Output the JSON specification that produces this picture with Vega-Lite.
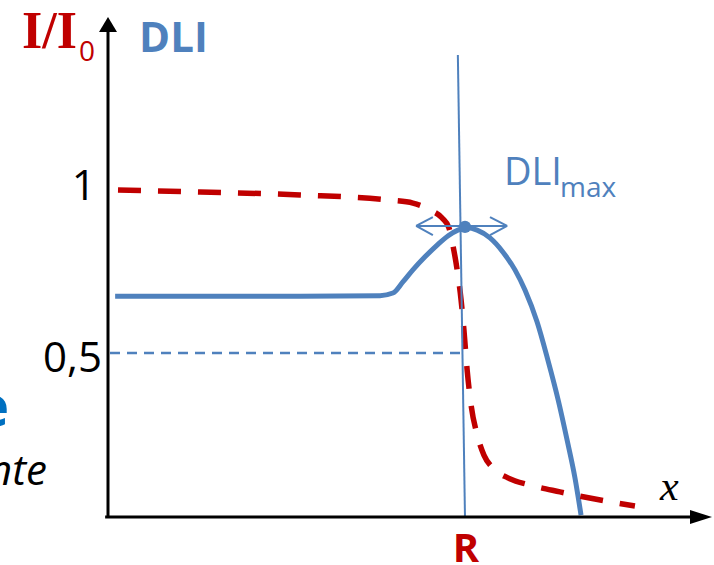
{
  "$schema": "https://vega.github.io/schema/vega-lite/v6.json",
  "width": 714,
  "height": 565,
  "autosize": {"type": "none"},
  "padding": 0,
  "background": "white",
  "config": {"view": {"stroke": null}},
  "datasets": {
    "axes": [
      {"x": -0.008, "y": 0, "x2": 1.64, "y2": 0},
      {"x": 0, "y": -0.003, "x2": 0, "y2": 1.49}
    ],
    "yhead": [{"x": 0, "y": 1.511}],
    "xhead": [{"x": 1.661, "y": 0}],
    "vline": [{"x": 0.98, "y": 1.417, "x2": 1.0, "y2": -0.003}],
    "hdash": [{"x": 0.0056, "y": 0.503, "x2": 0.994, "y2": 0.503}],
    "arrowsegs": [
      {"x": 0.863, "y": 0.893, "x2": 1.118, "y2": 0.893},
      {"x": 0.863, "y": 0.893, "x2": 0.91, "y2": 0.92},
      {"x": 0.863, "y": 0.893, "x2": 0.91, "y2": 0.865},
      {"x": 1.118, "y": 0.893, "x2": 1.07, "y2": 0.92},
      {"x": 1.118, "y": 0.893, "x2": 1.07, "y2": 0.865}
    ],
    "dot": [{"x": 1.0, "y": 0.89}],
    "red": [
      {"x": 0.028, "y": 1.003},
      {"x": 0.258, "y": 0.997},
      {"x": 0.538, "y": 0.988},
      {"x": 0.79, "y": 0.972},
      {"x": 0.854, "y": 0.963},
      {"x": 0.902, "y": 0.942},
      {"x": 0.936, "y": 0.917},
      {"x": 0.955, "y": 0.887},
      {"x": 0.966, "y": 0.834},
      {"x": 0.978, "y": 0.758},
      {"x": 0.989, "y": 0.666},
      {"x": 0.997, "y": 0.574},
      {"x": 1.006, "y": 0.451},
      {"x": 1.017, "y": 0.344},
      {"x": 1.034, "y": 0.252},
      {"x": 1.053, "y": 0.19},
      {"x": 1.078, "y": 0.15},
      {"x": 1.12, "y": 0.12},
      {"x": 1.182, "y": 0.098},
      {"x": 1.266, "y": 0.077},
      {"x": 1.364, "y": 0.055},
      {"x": 1.476, "y": 0.034}
    ],
    "blue": [
      {"x": 0.02, "y": 0.677},
      {"x": 0.538, "y": 0.677},
      {"x": 0.762, "y": 0.679},
      {"x": 0.798, "y": 0.687},
      {"x": 0.826, "y": 0.721},
      {"x": 0.854, "y": 0.758},
      {"x": 0.888, "y": 0.798},
      {"x": 0.922, "y": 0.834},
      {"x": 0.952, "y": 0.862},
      {"x": 0.98, "y": 0.88},
      {"x": 1.006, "y": 0.887},
      {"x": 1.034, "y": 0.88},
      {"x": 1.07, "y": 0.856},
      {"x": 1.106, "y": 0.813},
      {"x": 1.14, "y": 0.758},
      {"x": 1.168, "y": 0.696},
      {"x": 1.202, "y": 0.598},
      {"x": 1.232, "y": 0.482},
      {"x": 1.261, "y": 0.359},
      {"x": 1.286, "y": 0.236},
      {"x": 1.308, "y": 0.12},
      {"x": 1.325, "y": 0.006}
    ]
  },
  "encoding": {
    "x": {"field": "x", "type": "quantitative", "scale": {"domain": [-0.30252, 1.69748], "nice": false, "zero": false}, "axis": null},
    "y": {"field": "y", "type": "quantitative", "scale": {"domain": [-0.14724, 1.58589], "nice": false, "zero": false}, "axis": null}
  },
  "layer": [
    {"data": {"name": "hdash"}, "mark": {"type": "rule", "color": "#4F81BD", "strokeWidth": 2.5, "strokeDash": [10, 7]},
     "encoding": {"x2": {"field": "x2"}, "y2": {"field": "y2"}}},
    {"data": {"name": "blue"}, "mark": {"type": "line", "color": "#4F81BD", "strokeWidth": 5, "interpolate": "monotone"}, "encoding": {}},
    {"data": {"name": "red"}, "mark": {"type": "line", "color": "#C00000", "strokeWidth": 5.5, "strokeDash": [23, 17], "interpolate": "monotone"}, "encoding": {}},
    {"data": {"name": "vline"}, "mark": {"type": "rule", "color": "#4F81BD", "strokeWidth": 2},
     "encoding": {"x2": {"field": "x2"}, "y2": {"field": "y2"}}},
    {"data": {"name": "arrowsegs"}, "mark": {"type": "rule", "color": "#4F81BD", "strokeWidth": 2},
     "encoding": {"x2": {"field": "x2"}, "y2": {"field": "y2"}}},
    {"data": {"name": "dot"}, "mark": {"type": "point", "shape": "circle", "filled": true, "color": "#4F81BD", "size": 150, "opacity": 1}, "encoding": {}},
    {"data": {"name": "axes"}, "mark": {"type": "rule", "color": "#000000", "strokeWidth": 3},
     "encoding": {"x2": {"field": "x2"}, "y2": {"field": "y2"}}},
    {"data": {"name": "yhead"}, "mark": {"type": "point", "shape": "M0,-1L1.2,1L-1.2,1Z", "filled": true, "color": "#000000", "size": 225, "opacity": 1}, "encoding": {}},
    {"data": {"name": "xhead"}, "mark": {"type": "point", "shape": "M1,0L-1,0.64L-1,-0.64Z", "filled": true, "color": "#000000", "size": 484, "opacity": 1}, "encoding": {}},
    {"data": {"values": [{"x": -0.241, "y": 1.439, "t": "I/I"}]},
     "mark": {"type": "text", "font": "Liberation Serif", "fontWeight": "bold", "fontSize": 52, "color": "#C00000", "align": "left", "baseline": "alphabetic"},
     "encoding": {"text": {"field": "t"}}},
    {"data": {"values": [{"x": -0.081, "y": 1.399, "t": "0"}]},
     "mark": {"type": "text", "font": "Open Sans", "fontSize": 28, "color": "#C00000", "align": "left", "baseline": "alphabetic"},
     "encoding": {"text": {"field": "t"}}},
    {"data": {"values": [{"x": 0.087, "y": 1.426, "t": "DLI"}]},
     "mark": {"type": "text", "font": "Open Sans", "fontWeight": "bold", "fontSize": 42, "color": "#4F81BD", "align": "left", "baseline": "alphabetic"},
     "encoding": {"text": {"field": "t"}}},
    {"data": {"values": [{"x": -0.034, "y": 0.972, "t": "1"}, {"x": -0.017, "y": 0.445, "t": "0,5"}]},
     "mark": {"type": "text", "font": "Open Sans", "fontSize": 42, "color": "#000000", "align": "right", "baseline": "alphabetic"},
     "encoding": {"text": {"field": "t"}}},
    {"data": {"values": [{"x": 1.109, "y": 1.018, "t": "DLI"}]},
     "mark": {"type": "text", "font": "Open Sans", "fontSize": 38, "color": "#4F81BD", "align": "left", "baseline": "alphabetic"},
     "encoding": {"text": {"field": "t"}}},
    {"data": {"values": [{"x": 1.266, "y": 0.982, "t": "max"}]},
     "mark": {"type": "text", "font": "Open Sans", "fontSize": 28, "color": "#4F81BD", "align": "left", "baseline": "alphabetic"},
     "encoding": {"text": {"field": "t"}}},
    {"data": {"values": [{"x": 1.003, "y": -0.138, "t": "R"}]},
     "mark": {"type": "text", "font": "Open Sans", "fontWeight": "bold", "fontSize": 40, "color": "#C00000", "align": "center", "baseline": "alphabetic"},
     "encoding": {"text": {"field": "t"}}},
    {"data": {"values": [{"x": 1.546, "y": 0.052, "t": "x"}]},
     "mark": {"type": "text", "font": "Liberation Serif", "fontStyle": "italic", "fontSize": 42, "color": "#000000", "align": "left", "baseline": "alphabetic"},
     "encoding": {"text": {"field": "t"}}},
    {"data": {"values": [{"x": -0.277, "y": 0.28, "t": "e"}]},
     "mark": {"type": "text", "font": "Open Sans", "fontWeight": "bold", "fontSize": 56, "color": "#0070C0", "align": "right", "baseline": "alphabetic"},
     "encoding": {"text": {"field": "t"}}},
    {"data": {"values": [{"x": -0.171, "y": 0.098, "t": "nte"}]},
     "mark": {"type": "text", "font": "Open Sans", "fontStyle": "italic", "fontSize": 42, "color": "#000000", "align": "right", "baseline": "alphabetic"},
     "encoding": {"text": {"field": "t"}}}
  ]
}
